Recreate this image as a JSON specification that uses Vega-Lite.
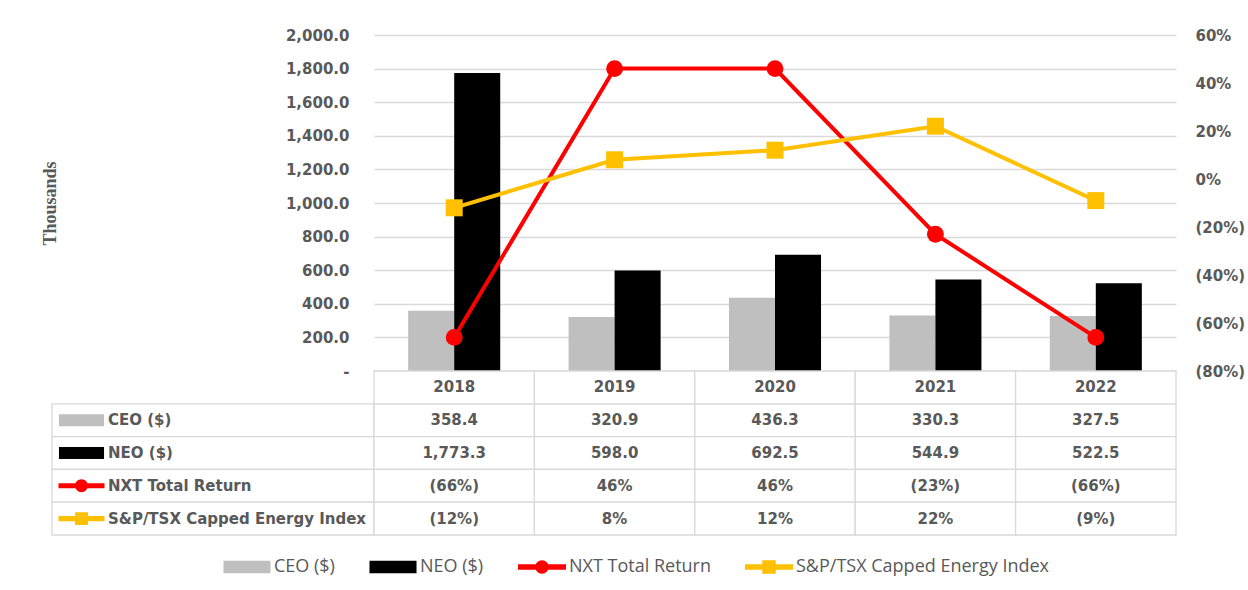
{
  "$schema": "https://vega.github.io/schema/vega-lite/v6.json",
  "background": "white",
  "padding": {"left": 41, "top": 28, "right": 4, "bottom": 0},
  "config": {
    "view": {"stroke": null},
    "font": "DejaVu Sans",
    "axis": {"labelFont": "DejaVu Sans", "labelFontWeight": "bold", "labelFontSize": 15, "labelColor": "#595959", "domain": false, "ticks": false, "tickSize": 0},
    "legend": {
      "orient": "none", "legendX": 171, "legendY": 508,
      "direction": "horizontal", "columns": 4, "title": null,
      "symbolSize": 2304, "symbolStrokeWidth": 0,
      "labelFont": "Open Sans", "labelFontSize": 18, "labelFontWeight": "normal", "labelColor": "#595959", "labelLimit": 0,
      "labelOffset": 3, "columnPadding": 34, "padding": 0, "gridAlign": "each"
    }
  },
  "datasets": {
    "comp": [
      {"year": "2018", "series": "CEO ($)", "value": 358.4},
      {"year": "2018", "series": "NEO ($)", "value": 1773.3},
      {"year": "2018", "series": "NXT Total Return", "value": -0.66},
      {"year": "2018", "series": "S&P/TSX Capped Energy Index", "value": -0.12},
      {"year": "2019", "series": "CEO ($)", "value": 320.9},
      {"year": "2019", "series": "NEO ($)", "value": 598.0},
      {"year": "2019", "series": "NXT Total Return", "value": 0.46},
      {"year": "2019", "series": "S&P/TSX Capped Energy Index", "value": 0.08},
      {"year": "2020", "series": "CEO ($)", "value": 436.3},
      {"year": "2020", "series": "NEO ($)", "value": 692.5},
      {"year": "2020", "series": "NXT Total Return", "value": 0.46},
      {"year": "2020", "series": "S&P/TSX Capped Energy Index", "value": 0.12},
      {"year": "2021", "series": "CEO ($)", "value": 330.3},
      {"year": "2021", "series": "NEO ($)", "value": 544.9},
      {"year": "2021", "series": "NXT Total Return", "value": -0.23},
      {"year": "2021", "series": "S&P/TSX Capped Energy Index", "value": 0.22},
      {"year": "2022", "series": "CEO ($)", "value": 327.5},
      {"year": "2022", "series": "NEO ($)", "value": 522.5},
      {"year": "2022", "series": "NXT Total Return", "value": -0.66},
      {"year": "2022", "series": "S&P/TSX Capped Energy Index", "value": -0.09}
    ]
  },
  "columns": 2,
  "spacing": 0,
  "bounds": "flush",
  "concat": [
    {
      "width": 322,
      "height": 336,
      "data": {"values": []},
      "mark": {"type": "point", "opacity": 0}
    },
    {
      "width": 802,
      "height": 336,
      "data": {"name": "comp"},
      "layer": [
        {
          "transform": [{"filter": "datum.series === 'CEO ($)' || datum.series === 'NEO ($)'"}],
          "mark": {"type": "bar"},
          "encoding": {
            "x": {"field": "year", "type": "nominal", "scale": {"paddingInner": 0.426, "paddingOuter": 0.213}, "axis": null},
            "xOffset": {"field": "series", "type": "nominal", "scale": {"domain": ["CEO ($)", "NEO ($)"], "paddingInner": 0, "paddingOuter": 0}},
            "y": {
              "field": "value", "type": "quantitative",
              "scale": {"domain": [0, 2000], "nice": false, "zero": true},
              "axis": {
                "orient": "left",
                "values": [0, 200, 400, 600, 800, 1000, 1200, 1400, 1600, 1800, 2000],
                "labelExpr": "datum.value === 0 ? '-\u00a0\u00a0' : format(datum.value, ',.1f')",
                "labelPadding": 25,
                "grid": true, "gridColor": "#d9d9d9", "gridWidth": 1.3,
                "title": "Thousands",
                "titleFont": "Liberation Serif", "titleFontSize": 18, "titleFontWeight": "bold", "titleColor": "#595959",
                "titleAngle": 270, "titleX": -315, "titleY": 168, "titleAlign": "center", "titleBaseline": "bottom"
              }
            },
            "color": {
              "field": "series", "type": "nominal",
              "scale": {"domain": ["CEO ($)", "NEO ($)", "NXT Total Return", "S&P/TSX Capped Energy Index"], "range": ["#BFBFBF", "#000000", "#FF0000", "#FFC000"]}
            }
          }
        },
        {
          "transform": [{"filter": "datum.series === 'NXT Total Return' || datum.series === 'S&P/TSX Capped Energy Index'"}],
          "encoding": {
            "x": {"field": "year", "type": "nominal", "axis": null},
            "y": {
              "field": "value", "type": "quantitative",
              "scale": {"domain": [-0.8, 0.6], "nice": false, "zero": false},
              "axis": {
                "orient": "right",
                "values": [-0.8, -0.6, -0.4, -0.2, 0, 0.2, 0.4, 0.6],
                "format": "(.0%",
                "labelPadding": 19,
                "grid": false,
                "title": null
              }
            }
          },
          "layer": [
            {
              "mark": {"type": "line", "strokeWidth": 4},
              "encoding": {
                "color": {
                  "field": "series", "type": "nominal",
                  "scale": {"domain": ["CEO ($)", "NEO ($)", "NXT Total Return", "S&P/TSX Capped Energy Index"], "range": ["#BFBFBF", "#000000", "#FF0000", "#FFC000"]}
                }
              }
            },
            {
              "transform": [{"filter": "datum.series === 'NXT Total Return'"}],
              "mark": {"type": "point", "shape": "circle", "filled": true, "size": 284, "opacity": 1, "color": "#FF0000"}
            },
            {
              "transform": [{"filter": "datum.series === 'S&P/TSX Capped Energy Index'"}],
              "mark": {"type": "point", "shape": "square", "filled": true, "size": 289, "opacity": 1, "color": "#FFC000"}
            }
          ]
        }
      ],
      "resolve": {"scale": {"y": "independent"}}
    },
    {
      "width": 322,
      "height": 164,
      "data": {"name": "comp"},
      "transform": [{"filter": "datum.year === '2018'"}],
      "encoding": {
        "y": {
          "field": "series", "type": "nominal",
          "scale": {"domain": ["Year", "CEO ($)", "NEO ($)", "NXT Total Return", "S&P/TSX Capped Energy Index"], "paddingInner": 0, "paddingOuter": 0},
          "axis": null
        }
      },
      "layer": [
        {
          "mark": {"type": "bar", "fill": "white", "stroke": "#d9d9d9", "strokeWidth": 1.3}
        },
        {
          "mark": {"type": "point", "filled": true, "opacity": 1, "size": 2116, "strokeWidth": 0},
          "encoding": {
            "x": {"value": 29.5},
            "shape": {
              "field": "series", "type": "nominal",
              "scale": {
                "domain": ["CEO ($)", "NEO ($)", "NXT Total Return", "S&P/TSX Capped Energy Index"],
                "range": [
                  "M-0.98,-0.26H0.98V0.26H-0.98Z",
                  "M-0.98,-0.26H0.98V0.26H-0.98Z",
                  "M-1,-0.11H1V0.11H-1Z M0.28,0A0.28,0.28 0 1 1 -0.28,0A0.28,0.28 0 1 1 0.28,0Z",
                  "M-1,-0.11H1V0.11H-1Z M-0.28,-0.28H0.28V0.28H-0.28Z"
                ]
              },
              "legend": null
            },
            "color": {
              "field": "series", "type": "nominal",
              "scale": {"domain": ["CEO ($)", "NEO ($)", "NXT Total Return", "S&P/TSX Capped Energy Index"], "range": ["#BFBFBF", "#000000", "#FF0000", "#FFC000"]},
              "legend": {
                "encode": {
                  "symbols": {
                    "update": {
                      "shape": {"signal": "datum.value === 'NXT Total Return' ? 'M-1,-0.083H1V0.083H-1Z M0.29,0A0.29,0.29 0 1 1 -0.29,0A0.29,0.29 0 1 1 0.29,0Z' : datum.value === 'S&P/TSX Capped Energy Index' ? 'M-1,-0.083H1V0.083H-1Z M-0.29,-0.29H0.29V0.29H-0.29Z' : 'M-0.94,-0.21H0.94V0.21H-0.94Z'"},
                      "fill": {"signal": "datum.value === 'CEO ($)' ? '#BFBFBF' : datum.value === 'NEO ($)' ? '#000000' : datum.value === 'NXT Total Return' ? '#FF0000' : '#FFC000'"},
                      "stroke": {"value": "transparent"},
                      "opacity": {"value": 1}
                    }
                  }
                }
              }
            }
          }
        },
        {
          "mark": {"type": "text", "align": "left", "baseline": "middle", "font": "DejaVu Sans", "fontWeight": "bold", "fontSize": 15, "color": "#595959"},
          "encoding": {
            "x": {"value": 56},
            "text": {"field": "series", "type": "nominal"}
          }
        }
      ]
    },
    {
      "width": 802,
      "height": 164,
      "data": {"name": "comp"},
      "encoding": {
        "x": {"field": "year", "type": "nominal", "scale": {"paddingInner": 0, "paddingOuter": 0}, "axis": null}
      },
      "layer": [
        {
          "mark": {"type": "rect", "fill": "white", "stroke": "#d9d9d9", "strokeWidth": 1.3},
          "encoding": {
            "y": {
              "field": "series", "type": "nominal",
              "scale": {"domain": ["Year", "CEO ($)", "NEO ($)", "NXT Total Return", "S&P/TSX Capped Energy Index"], "paddingInner": 0, "paddingOuter": 0},
              "axis": null
            }
          }
        },
        {
          "transform": [{"filter": "datum.series === 'CEO ($)'"}],
          "mark": {"type": "rect", "fill": "white", "stroke": "#d9d9d9", "strokeWidth": 1.3},
          "encoding": {"y": {"datum": "Year", "type": "nominal"}}
        },
        {
          "transform": [{"filter": "datum.series === 'CEO ($)'"}],
          "mark": {"type": "text", "align": "center", "baseline": "middle", "font": "DejaVu Sans", "fontWeight": "bold", "fontSize": 15, "color": "#595959"},
          "encoding": {
            "y": {"datum": "Year", "type": "nominal"},
            "text": {"field": "year", "type": "nominal"}
          }
        },
        {
          "transform": [{"filter": "datum.series === 'CEO ($)' || datum.series === 'NEO ($)'"}],
          "mark": {"type": "text", "align": "center", "baseline": "middle", "font": "DejaVu Sans", "fontWeight": "bold", "fontSize": 15, "color": "#595959"},
          "encoding": {
            "y": {"field": "series", "type": "nominal"},
            "text": {"field": "value", "type": "quantitative", "format": ",.1f"}
          }
        },
        {
          "transform": [{"filter": "datum.series === 'NXT Total Return' || datum.series === 'S&P/TSX Capped Energy Index'"}],
          "mark": {"type": "text", "align": "center", "baseline": "middle", "font": "DejaVu Sans", "fontWeight": "bold", "fontSize": 15, "color": "#595959"},
          "encoding": {
            "y": {"field": "series", "type": "nominal"},
            "text": {"field": "value", "type": "quantitative", "format": "(.0%"}
          }
        }
      ]
    }
  ]
}
